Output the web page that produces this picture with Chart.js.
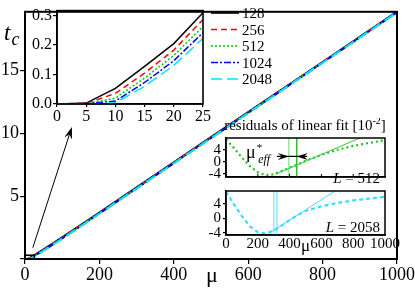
<!DOCTYPE html>
<html>
<head>
<meta charset="utf-8">
<script src="https://cdn.jsdelivr.net/npm/chart.js@4.4.1/dist/chart.umd.min.js"></script>
<style>
  body { margin: 0; background: #fff; }
  #wrap { position: relative; width: 415px; height: 289px; overflow: hidden; background: #fff; }
  canvas { position: absolute; }
  #main { left: 0; top: 0; }
  #zoom { left: 30px; top: 0; }
  #res512 { left: 200px; top: 118px; }
  #res2058 { left: 200px; top: 180px; }
</style>
</head>
<body>
<div id="wrap">
  <canvas id="main" width="415" height="289"></canvas>
  <canvas id="zoom" width="260" height="130"></canvas>
  <canvas id="res512" width="200" height="70"></canvas>
  <canvas id="res2058" width="200" height="80"></canvas>
</div>
<script>
// critical time t_c against mu, one series per system size L
const mu = [0, 5, 10, 15, 20, 25, 50, 100, 200, 300, 400, 500, 600, 700, 800, 900, 1000];
const tc128 = [0, 0.003, 0.053, 0.128, 0.205, 0.310, 0.76, 1.72, 3.70, 5.70, 7.69, 9.69, 11.68, 13.68, 15.67, 17.67, 19.67];
const tc256 = [0, 0.002, 0.036, 0.105, 0.183, 0.287, 0.73, 1.69, 3.67, 5.67, 7.66, 9.66, 11.65, 13.65, 15.64, 17.64, 19.64];
const tc512 = [0, 0.001, 0.020, 0.088, 0.165, 0.263, 0.70, 1.66, 3.64, 5.64, 7.64, 9.64, 11.63, 13.63, 15.63, 17.63, 19.63];
const tc1024 = [0, 0.001, 0.010, 0.073, 0.147, 0.242, 0.68, 1.64, 3.62, 5.62, 7.62, 9.62, 11.62, 13.62, 15.62, 17.62, 19.62];
const tc2048 = [0, 0.000, 0.004, 0.060, 0.131, 0.223, 0.66, 1.62, 3.60, 5.61, 7.61, 9.61, 11.61, 13.61, 15.61, 17.61, 19.61];
const sizes = ['128', '256', '512', '1024', '2048'];

// residuals of linear fit [10^-2]
const resMu = [0, 50, 100, 150, 200, 250, 300, 350, 400, 450, 500, 600, 700, 800, 900, 1000];
const res512 = [7.5, 4.6, 1.4, -1.5, -3.5, -4.5, -4.2, -3.1, -2.0, -0.9, 0.3, 2.3, 4.0, 5.3, 6.3, 7.2];
const res2058 = [7.4, 3.8, 0.6, -2.2, -3.8, -4.2, -3.4, -2.0, -0.5, 0.9, 2.0, 3.3, 4.2, 4.9, 5.4, 5.9];
const fitMu512 = [310, 870];
const fitRes512 = [-4.2, 8.6];
const fitMu2058 = [290, 700];
const fitRes2058 = [-3.6, 7.9];
const muEff512 = [395, 445];
const muEff2058 = [300, 320];

// annotation anchors (data units)
const zoomBox = { mu: [0, 25], tc: [0, 0.3] };
const zoomArrow = { from: [21, 0.9], to: [126, 10.5] };
const effArrow = { left: [320, 395], right: [510, 445], res: 1.8 };

const serif = "'Liberation Serif', serif";
Chart.defaults.font.family = serif;
Chart.defaults.color = '#000';

const lineStyles = [
  { color: '#000000', dash: [] },
  { color: '#ff0000', dash: [6, 4] },
  { color: '#00cc00', dash: [2, 2] },
  { color: '#0000ff', dash: [7, 2, 2, 2] },
  { color: '#00e5ff', dash: [11, 5] },
];

const pts = (xs, ys) => xs.map((x, i) => ({ x: x, y: ys[i] }));
const plain = v => String(v);

function tcDatasets(width) {
  return [tc128, tc256, tc512, tc1024, tc2048].map((vals, i) => ({
    label: sizes[i],
    data: pts(mu, vals),
    borderColor: lineStyles[i].color,
    borderDash: lineStyles[i].dash,
    borderWidth: width,
    pointRadius: 0,
    tension: 0,
    order: 4 - i,
  }));
}

const fixWidth = w => s => { s.width = w; };
const fixHeight = h => s => { s.height = h; };
const axisGrid = (len) => ({ drawOnChartArea: false, tickLength: len, color: '#000', lineWidth: 1.2 });
const axisBorder = (w) => ({ color: '#000', width: w });

function drawParts(ctx, parts, x, y, align) {
  let w = 0;
  parts.forEach(p => { ctx.font = p.font; p.w = ctx.measureText(p.text).width; w += p.w + (p.gap || 0); });
  let cx = align === 'right' ? x - w : align === 'center' ? x - w / 2 : x;
  parts.forEach(p => {
    ctx.font = p.font;
    cx += p.gap || 0;
    ctx.fillText(p.text, cx, y + (p.dy || 0));
    cx += p.w;
  });
}

function arrowHead(ctx, tx, ty, dx, dy, len, half) {
  const n = Math.hypot(dx, dy); dx /= n; dy /= n;
  const bx = tx - dx * len, by = ty - dy * len;
  ctx.beginPath();
  ctx.moveTo(tx, ty);
  ctx.lineTo(bx - dy * half, by + dx * half);
  ctx.lineTo(tx - dx * len * 0.65, ty - dy * len * 0.65);
  ctx.lineTo(bx + dy * half, by - dx * half);
  ctx.closePath();
  ctx.fill();
}

function frame(chart, w) {
  const { ctx, chartArea: a } = chart;
  ctx.save();
  ctx.strokeStyle = '#000';
  ctx.lineWidth = w;
  ctx.strokeRect(a.left, a.top, a.right - a.left, a.bottom - a.top);
  ctx.restore();
}

const base = {
  responsive: false,
  animation: false,
  events: [],
  devicePixelRatio: 1,
  plugins: { legend: { display: false }, tooltip: { enabled: false } },
};

// ---- main chart ----
const mainDecor = {
  id: 'mainDecor',
  afterDraw(chart) {
    frame(chart, 2);
    const { ctx, scales: { x, y } } = chart;
    ctx.save();
    ctx.strokeStyle = '#000';
    ctx.fillStyle = '#000';
    ctx.lineWidth = 1.6;
    const bx0 = x.getPixelForValue(zoomBox.mu[0]), bx1 = x.getPixelForValue(zoomBox.mu[1]);
    const by0 = y.getPixelForValue(zoomBox.tc[0]), by1 = y.getPixelForValue(zoomBox.tc[1]);
    ctx.strokeRect(bx0, by1, bx1 - bx0, by0 - by1);
    const ax0 = x.getPixelForValue(zoomArrow.from[0]), ay0 = y.getPixelForValue(zoomArrow.from[1]);
    const ax1 = x.getPixelForValue(zoomArrow.to[0]), ay1 = y.getPixelForValue(zoomArrow.to[1]);
    ctx.lineWidth = 1;
    ctx.beginPath();
    ctx.moveTo(ax0, ay0);
    ctx.lineTo(ax1 - (ax1 - ax0) * 0.05, ay1 - (ay1 - ay0) * 0.05);
    ctx.stroke();
    arrowHead(ctx, ax1, ay1, ax1 - ax0, ay1 - ay0, 12, 4);
    drawParts(ctx, [
      { text: 't', font: `italic 23px ${serif}` },
      { text: 'c', font: `italic 18px ${serif}`, dy: 5, gap: 1 },
    ], 4, 40, 'left');
    ctx.font = `22px ${serif}`;
    ctx.fillText('μ', 206, 282);
    ctx.restore();
  }
};

new Chart(document.getElementById('main'), {
  type: 'line',
  data: { datasets: tcDatasets(2) },
  options: {
    ...base,
    layout: { padding: { left: 0, right: 17, top: 2, bottom: 0 } },
    scales: {
      x: {
        type: 'linear', min: 0, max: 1000, afterFit: fixHeight(30),
        ticks: { stepSize: 200, font: { size: 18 }, maxRotation: 0, autoSkip: false, padding: 0, callback: plain },
        grid: axisGrid(5), border: axisBorder(2),
      },
      y: {
        min: 0, max: 19.66, afterFit: fixWidth(25),
        ticks: { stepSize: 5, includeBounds: false, font: { size: 18 }, padding: 1,
                 callback: v => (v === 0 ? '' : String(v)) },
        grid: axisGrid(5), border: axisBorder(2),
      },
    },
  },
  plugins: [mainDecor],
});

// ---- zoom inset (mu 0..25) ----
const zoomDecor = {
  id: 'zoomDecor',
  afterDraw(chart) {
    frame(chart, 1.6);
    const { ctx, chartArea: a } = chart;
    ctx.save();
    ctx.font = `15px ${serif}`;
    ctx.fillStyle = '#000';
    const x0 = a.right + 8, x1 = x0 + 28;
    chart.data.datasets.forEach((ds, i) => {
      const yy = 13 + i * 16.5;
      ctx.strokeStyle = ds.borderColor;
      ctx.setLineDash(ds.borderDash);
      ctx.lineWidth = 1.6;
      ctx.beginPath();
      ctx.moveTo(x0, yy);
      ctx.lineTo(x1, yy);
      ctx.stroke();
      ctx.fillText(ds.label, x1 + 3, yy + 5);
    });
    ctx.restore();
  }
};

new Chart(document.getElementById('zoom'), {
  type: 'line',
  data: { datasets: tcDatasets(1.5) },
  options: {
    ...base,
    layout: { padding: { left: 0, right: 87, top: 9, bottom: 0 } },
    scales: {
      x: {
        type: 'linear', min: 0, max: 25, afterFit: fixHeight(26),
        ticks: { stepSize: 5, font: { size: 16 }, maxRotation: 0, autoSkip: false, padding: 0, callback: plain },
        grid: axisGrid(3), border: axisBorder(1.6),
      },
      y: {
        min: 0, max: 0.317, afterFit: fixWidth(27),
        ticks: { stepSize: 0.1, includeBounds: false, font: { size: 16 }, padding: 1,
                 callback: v => v.toFixed(1) },
        grid: axisGrid(4), border: axisBorder(1.6),
      },
    },
  },
  plugins: [zoomDecor],
});

// ---- residual panels ----
function residualSets(curve, curveStyle, fitMu, fitRes, fitColor, effs, effColors) {
  const sets = [
    { data: pts(resMu, curve), borderColor: curveStyle.color, borderDash: curveStyle.dash,
      borderWidth: 2.2, pointRadius: 0, order: 2 },
    { data: pts(fitMu, fitRes), borderColor: fitColor, borderWidth: 1, pointRadius: 0, order: 1 },
  ];
  effs.forEach((m, i) => sets.push({
    data: [{ x: m, y: -20 }, { x: m, y: 20 }], borderColor: effColors[i],
    borderWidth: 1.5, pointRadius: 0, order: 3,
  }));
  return sets;
}

function resScales(ymin, ymax, showX) {
  return {
    x: {
      type: 'linear', min: 0, max: 1000, afterFit: fixHeight(showX ? 25 : 1),
      ticks: { display: showX, stepSize: 200, font: { size: 15 }, maxRotation: 0, minRotation: 0,
               autoSkip: false, padding: 0, callback: plain },
      grid: { drawOnChartArea: false, drawTicks: false, color: '#000' }, border: axisBorder(1.5),
    },
    y: {
      min: ymin, max: ymax, afterFit: fixWidth(26),
      ticks: { stepSize: 4, includeBounds: false, font: { size: 15 }, padding: 2, callback: plain },
      grid: axisGrid(3), border: axisBorder(1.5),
    },
  };
}

const res512Decor = {
  id: 'res512Decor',
  afterDraw(chart) {
    frame(chart, 1.5);
    const { ctx, chartArea: a, scales: { x, y } } = chart;
    ctx.save();
    ctx.fillStyle = '#000';
    ctx.strokeStyle = '#000';
    ctx.lineWidth = 1;
    [200, 400, 600, 800].forEach(v => {
      const px = x.getPixelForValue(v);
      ctx.beginPath(); ctx.moveTo(px, a.bottom); ctx.lineTo(px, a.bottom - 3); ctx.stroke();
    });
    drawParts(ctx, [
      { text: 'residuals of linear fit [10', font: `15px ${serif}` },
      { text: '-2', font: `10px ${serif}`, dy: -6 },
      { text: ']', font: `15px ${serif}` },
    ], 105, 12, 'center');
    drawParts(ctx, [
      { text: 'μ', font: `18px ${serif}` },
      { text: '*', font: `11px ${serif}`, dy: -7, gap: 1 },
      { text: 'eff', font: `italic 12px ${serif}`, dy: 5, gap: -4 },
    ], 46, 40, 'left');
    drawParts(ctx, [
      { text: 'L', font: `italic 15px ${serif}` },
      { text: ' = 512', font: `15px ${serif}` },
    ], a.right - 5, 65, 'right');
    const ay = y.getPixelForValue(effArrow.res);
    const l0 = x.getPixelForValue(effArrow.left[0]), l1 = x.getPixelForValue(effArrow.left[1]);
    const r0 = x.getPixelForValue(effArrow.right[0]), r1 = x.getPixelForValue(effArrow.right[1]);
    ctx.lineWidth = 1.2;
    ctx.beginPath(); ctx.moveTo(l0, ay); ctx.lineTo(r0, ay); ctx.stroke();
    arrowHead(ctx, l1, ay, 1, 0, 11, 3.5);
    arrowHead(ctx, r1, ay, -1, 0, 11, 3.5);
    ctx.restore();
  }
};

new Chart(document.getElementById('res512'), {
  type: 'line',
  data: { datasets: residualSets(res512, { color: '#22c022', dash: [2, 3] }, fitMu512, fitRes512,
                                 '#33cc33', muEff512, ['#99e699', '#33bb33']) },
  options: {
    ...base,
    layout: { padding: { left: 0, right: 15, top: 20, bottom: 0 } },
    scales: resScales(-5.1, 7.95, false),
  },
  plugins: [res512Decor],
});

const res2058Decor = {
  id: 'res2058Decor',
  afterDraw(chart) {
    frame(chart, 1.5);
    const { ctx, chartArea: a, scales: { x } } = chart;
    ctx.save();
    ctx.fillStyle = '#000';
    drawParts(ctx, [
      { text: 'L', font: `italic 15px ${serif}` },
      { text: ' = 2058', font: `15px ${serif}` },
    ], a.right - 5, a.bottom - 3, 'right');
    ctx.font = `17px ${serif}`;
    ctx.textAlign = 'center';
    ctx.fillText('μ', x.getPixelForValue(500), 71);
    ctx.restore();
  }
};

new Chart(document.getElementById('res2058'), {
  type: 'line',
  data: { datasets: residualSets(res2058, { color: '#33e0ff', dash: [4, 3] }, fitMu2058, fitRes2058,
                                 '#44ddff', muEff2058, ['#88f0ff', '#88f0ff']) },
  options: {
    ...base,
    layout: { padding: { left: 0, right: 15, top: 7, bottom: 0 } },
    scales: resScales(-4.6, 7.5, true),
  },
  plugins: [res2058Decor],
});
</script>
</body>
</html>
